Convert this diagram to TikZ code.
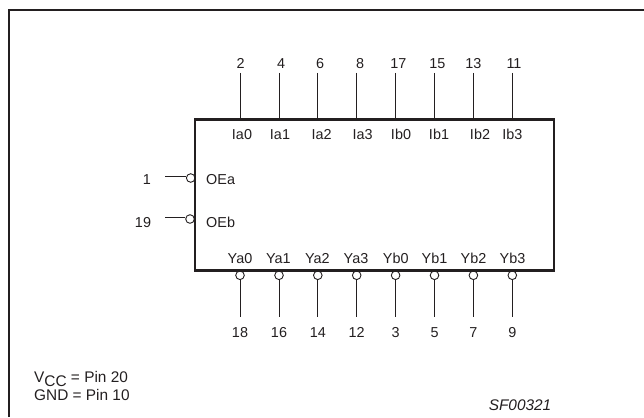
\documentclass[tikz,border=0pt]{standalone}
\usepackage{fontspec}
\setmainfont{Liberation Sans}
\definecolor{ink}{HTML}{231F20}
\tikzset{x=1pt,y=-1pt,
  frameline/.style={draw=ink,line width=2.3pt},
  chipbox/.style={draw=ink,line width=2.3pt},
  pinline/.style={draw=ink,line width=0.9pt},
  bubble/.style={circle,draw=ink,line width=0.9pt,fill=white,inner sep=0pt,minimum size=8.6pt},
  lbl/.style={text=ink,font=\fontsize{14.4}{15}\selectfont,inner sep=0pt,anchor=base},
  lbll/.style={lbl,anchor=base west},
  foot/.style={lbll,font=\fontsize{15.4}{16}\selectfont},
}
\begin{document}
\begin{tikzpicture}
\useasboundingbox (0,0) rectangle (644,417);
\draw[frameline] (8.7,417) -- (8.7,9.7) -- (644,9.7);
\foreach \x/\xp/\xn/\p/\n/\k in {240/240.7/242/2/Ia0/a, 279/281/280/4/Ia1/b, 317.8/320/321.7/6/Ia2/c, 356.7/360/362.7/8/Ia3/d, 395.6/398.3/401/17/Ib0/e, 434.5/437.3/439/15/Ib1/f, 473.4/473.3/480/13/Ib2/g, 512.3/514/512.3/11/Ib3/h}{
  \coordinate (t\k) at (\x,73);
  \coordinate (u\k) at (\x,119.5);
  \draw[pinline] (t\k) -- (u\k);
  \node[lbl] (tp\k) at (\xp,68.5) {\p};
  \node[lbl] (tn\k) at (\xn,139.7) {\n};
}
\foreach \x/\xn/\p/\n/\k in {240/240/18/Ya0/a, 279/278.3/16/Ya1/b, 317.8/317.3/14/Ya2/c, 356.7/356/12/Ya3/d, 395.6/395.7/3/Yb0/e, 434.5/434.5/5/Yb1/f, 473.4/473.5/7/Yb2/g, 512.3/512.5/9/Yb3/h}{
  \node[bubble] (b\k) at (\x,275.3) {};
  \coordinate (e\k) at (\x,316.8);
  \draw[pinline] (b\k) -- (e\k);
  \node[lbl] (bp\k) at (\x,337.7) {\p};
  \node[lbl] (bn\k) at (\xn,263.2) {\n};
}
\node[bubble] (oa) at (190.7,178) {};
\node[bubble] (ob) at (190,219) {};
\coordinate (oa1) at (165,176.8);
\coordinate (ob1) at (165,217.8);
\draw[pinline] (oa1) -- (oa.west |- oa1);
\draw[pinline] (ob1) -- (ob.west |- ob1);
\draw[chipbox] (195,119.5) rectangle (554,270.6);
\node[lbl] (pa) at (147,184) {1};
\node[lbl] (pb) at (143,227) {19};
\node[lbll] (na) at (206,184) {OEa};
\node[lbll] (nb) at (206,227) {OEb};
\node[foot] (v) at (34,382.7) {V\raisebox{-0.25em}{CC} = Pin 20};
\node[foot] (g) at (34,400.7) {GND = Pin 10};
\node[lbl,font=\fontsize{15.4}{16}\selectfont\itshape] (sf) at (520,410.7) {SF00321};
\end{tikzpicture}
\end{document}
